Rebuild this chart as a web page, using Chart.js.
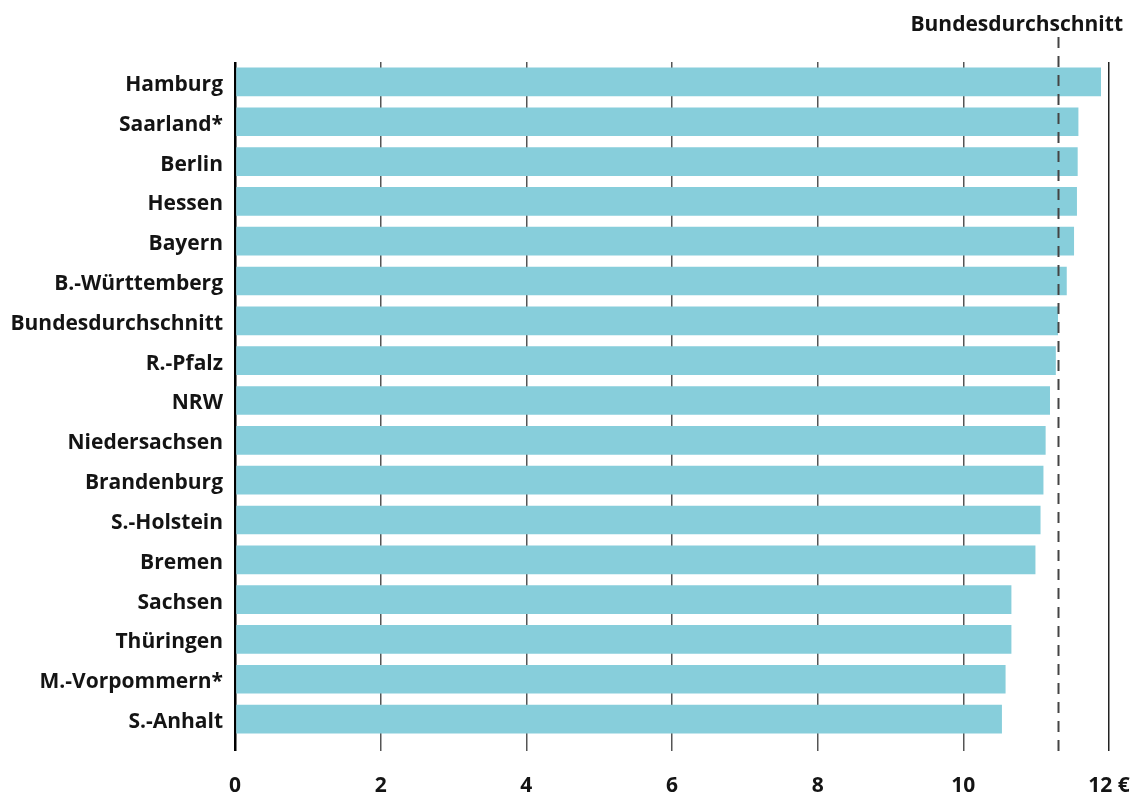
<!DOCTYPE html>
<html>
<head>
<meta charset="utf-8">
<script src="https://cdn.jsdelivr.net/npm/chart.js@4"></script>
<style>
  html, body { margin: 0; padding: 0; background: #fff; }
  #wrap { width: 1143px; height: 792px; }
</style>
</head>
<body>
<div id="wrap"><canvas id="myChart" width="1143" height="792"></canvas></div>
<script>
var FONT = "'Open Sans', sans-serif";
var TEXT = '#141414';

var laender = ['Hamburg', 'Saarland*', 'Berlin', 'Hessen', 'Bayern', 'B.-Württemberg',
  'Bundesdurchschnitt', 'R.-Pfalz', 'NRW', 'Niedersachsen', 'Brandenburg', 'S.-Holstein',
  'Bremen', 'Sachsen', 'Thüringen', 'M.-Vorpommern*', 'S.-Anhalt'];
var preise = [11.89, 11.58, 11.57, 11.56, 11.52, 11.42, 11.30, 11.27, 11.19, 11.13,
  11.10, 11.06, 10.99, 10.66, 10.66, 10.58, 10.53];
var ticksX = [0, 2, 4, 6, 8, 10, 12];
var durchschnitt = 11.30;
var durchschnittLabel = 'Bundesdurchschnitt';

// dashed reference line for the national average plus its caption
var averageLine = {
  id: 'averageLine',
  afterDatasetsDraw: function(chart) {
    var c = chart.ctx;
    var x = Math.round(chart.scales.x.getPixelForValue(durchschnitt)) + 0.5;
    c.save();
    c.strokeStyle = '#444';
    c.lineWidth = 2;
    c.setLineDash([11, 8]);
    c.beginPath();
    c.moveTo(x, 37);
    c.lineTo(x, chart.chartArea.bottom + 12);
    c.stroke();
    c.setLineDash([]);
    c.fillStyle = TEXT;
    c.font = "bold 21px " + FONT;
    c.textAlign = 'right';
    c.textBaseline = 'alphabetic';
    c.fillText(durchschnittLabel, 1123, 31);
    c.restore();
  }
};

var ctx = document.getElementById('myChart').getContext('2d');
var myChart = new Chart(ctx, {
  type: 'bar',
  data: {
    labels: laender,
    datasets: [{
      data: preise,
      backgroundColor: '#87cedb',
      borderWidth: 0,
      barPercentage: 0.72,
      categoryPercentage: 1
    }]
  },
  options: {
    indexAxis: 'y',
    responsive: false,
    animation: false,
    layout: {
      padding: { top: 62, right: 34, left: 0, bottom: 0 }
    },
    plugins: {
      legend: { display: false },
      tooltip: { enabled: false }
    },
    scales: {
      x: {
        min: 0,
        max: 12,
        afterBuildTicks: function(scale) {
          scale.ticks = ticksX.map(function(v) { return { value: v }; });
        },
        afterFit: function(scale) {
          // fixed axis height, and no extra room for the end labels
          scale.height = 53;
          scale.paddingLeft = 0;
          scale.paddingRight = 0;
        },
        border: { display: false },
        grid: {
          drawOnChartArea: true,
          drawTicks: true,
          tickLength: 12,
          color: function(c) {
            if (c.tick && c.tick.value === 0) return '#000';
            if (c.tick && c.tick.value === 12) return '#222';
            return '#555';
          },
          lineWidth: function(c) {
            return c.tick && c.tick.value === 0 ? 2.5 : 1.5;
          }
        },
        ticks: {
          padding: 22,
          color: TEXT,
          font: { family: FONT, size: 21, weight: 'bold' },
          callback: function(v) { return v === 12 ? '12 €' : v; }
        }
      },
      y: {
        afterFit: function(scale) { scale.width = 235; },
        border: { display: false },
        grid: { display: false, drawTicks: false },
        ticks: {
          padding: 12,
          labelOffset: 3,
          color: TEXT,
          font: { family: FONT, size: 21, weight: 'bold' }
        }
      }
    }
  },
  plugins: [averageLine]
});
</script>
</body>
</html>
